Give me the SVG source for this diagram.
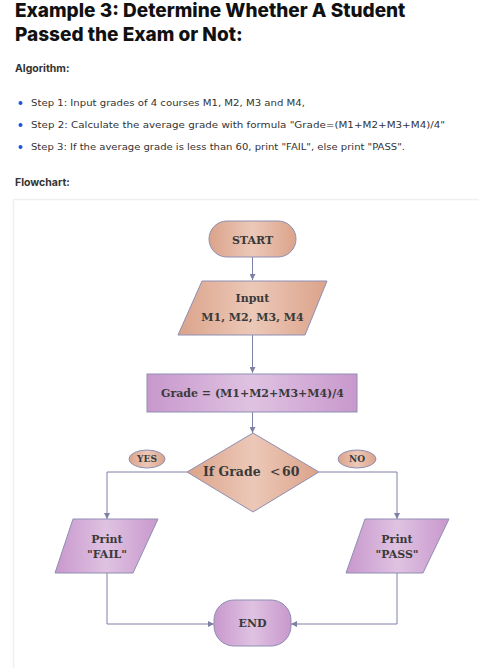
<svg xmlns="http://www.w3.org/2000/svg" width="479" height="668" viewBox="0 0 479 668">
<defs>
<linearGradient id="gs" x1="0" y1="0" x2="1" y2="0">
<stop offset="0" stop-color="#dba38a"/><stop offset="0.5" stop-color="#ecc8b8"/><stop offset="1" stop-color="#dba38a"/>
</linearGradient>
<linearGradient id="gp" x1="0" y1="0" x2="1" y2="0">
<stop offset="0" stop-color="#c898cc"/><stop offset="0.5" stop-color="#dfc2e2"/><stop offset="1" stop-color="#c898cc"/>
</linearGradient>
<marker id="ah" viewBox="0 0 6 6" refX="6" refY="3" markerWidth="6" markerHeight="6" orient="auto" markerUnits="userSpaceOnUse">
<path d="M0,0 L6,3 L0,6 z" fill="#7e80a6"/>
</marker>
</defs>
<style>
.h{font-family:Inter,"Open Sans",sans-serif;font-weight:800;font-size:19px;fill:#111}
.sub{font-family:Inter,"Open Sans",sans-serif;font-weight:700;font-size:10.5px;fill:#333}
.b{font-family:"DejaVu Sans",Inter,sans-serif;font-size:9px;fill:#333}
.n{font-family:"DejaVu Serif","Liberation Serif",serif;font-size:11px;font-weight:bold;fill:#3a3a3a;text-anchor:middle}
.st{text-anchor:start;font-size:12.5px}
.s{font-family:"DejaVu Serif","Liberation Serif",serif;font-size:9px;font-weight:bold;fill:#3a3a3a;text-anchor:middle}
.sh{stroke:#8e8fb3;stroke-width:1}
.c{fill:none;stroke:#7e80a6;stroke-width:1}
</style>
<rect width="479" height="668" fill="#fff"/>
<text class="h" x="15" y="17">Example 3: Determine Whether A Student</text>
<text class="h" x="15" y="41">Passed the Exam or Not:</text>
<text class="sub" x="15" y="72">Algorithm:</text>
<circle cx="20.5" cy="103" r="2" fill="#1a56db"/>
<circle cx="20.5" cy="125" r="2" fill="#1a56db"/>
<circle cx="20.5" cy="147" r="2" fill="#1a56db"/>
<text class="b" x="31" y="106" textLength="274" lengthAdjust="spacingAndGlyphs">Step 1: Input grades of 4 courses M1, M2, M3 and M4,</text>
<text class="b" x="31" y="128" textLength="414" lengthAdjust="spacingAndGlyphs">Step 2: Calculate the average grade with formula "Grade=(M1+M2+M3+M4)/4"</text>
<text class="b" x="31" y="150" textLength="374" lengthAdjust="spacingAndGlyphs">Step 3: If the average grade is less than 60, print "FAIL", else print "PASS".</text>
<text class="sub" x="15" y="186">Flowchart:</text>
<rect x="13.5" y="199.5" width="470" height="480" fill="#fff" stroke="#f0f0f0" stroke-width="1.5"/>

<g id="connectors">
<path class="c" d="M252.5,257 V280" marker-end="url(#ah)"/>
<path class="c" d="M252.5,335 V373" marker-end="url(#ah)"/>
<path class="c" d="M252.5,412 V433" marker-end="url(#ah)"/>
<path class="c" d="M187,472 H107 V519" marker-end="url(#ah)"/>
<path class="c" d="M319,472 H397 V519" marker-end="url(#ah)"/>
<path class="c" d="M107,573 V624 H214" marker-end="url(#ah)"/>
<path class="c" d="M397,573 V624 H291" marker-end="url(#ah)"/>
</g>

<g id="start">
<rect class="sh" x="209" y="221" width="87" height="36" rx="18" fill="url(#gs)"/>
<text class="n" x="252.5" y="244" font-size="12">START</text>
</g>
<g id="input">
<polygon class="sh" points="202,281 327,281 305,335 178,335" fill="url(#gs)"/>
<text class="n" x="252.5" y="302">Input</text>
<text class="n" x="252.5" y="321">M1, M2, M3, M4</text>
</g>
<g id="grade">
<rect class="sh" x="147" y="374" width="210" height="38" fill="url(#gp)"/>
<text class="n" x="252.5" y="397">Grade = (M1+M2+M3+M4)/4</text>
</g>
<g id="decision">
<polygon class="sh" points="253,433 319,472 253,512 187,472" fill="url(#gs)"/>
<text class="n st" x="203" y="476">If Grade<tspan x="270" font-weight="normal">&lt;</tspan><tspan x="282">60</tspan></text>
</g>
<g id="yes">
<ellipse class="sh" cx="147" cy="459" rx="18" ry="9" fill="url(#gs)"/>
<text class="s" x="147" y="462">YES</text>
</g>
<g id="no">
<ellipse class="sh" cx="357" cy="459" rx="19" ry="9" fill="url(#gs)"/>
<text class="s" x="357" y="462">NO</text>
</g>
<g id="fail">
<polygon class="sh" points="73,519 158,519 133,573 55,573" fill="url(#gp)"/>
<text class="n" x="107" y="543">Print</text>
<text class="n" x="107" y="558">"FAIL"</text>
</g>
<g id="pass">
<polygon class="sh" points="365,519 449,519 423,573 346,573" fill="url(#gp)"/>
<text class="n" x="397" y="543">Print</text>
<text class="n" x="397" y="558">"PASS"</text>
</g>
<g id="end">
<rect class="sh" x="214" y="600" width="77" height="46" rx="20" fill="url(#gp)"/>
<text class="n" x="252.5" y="627" font-size="12">END</text>
</g>
</svg>
